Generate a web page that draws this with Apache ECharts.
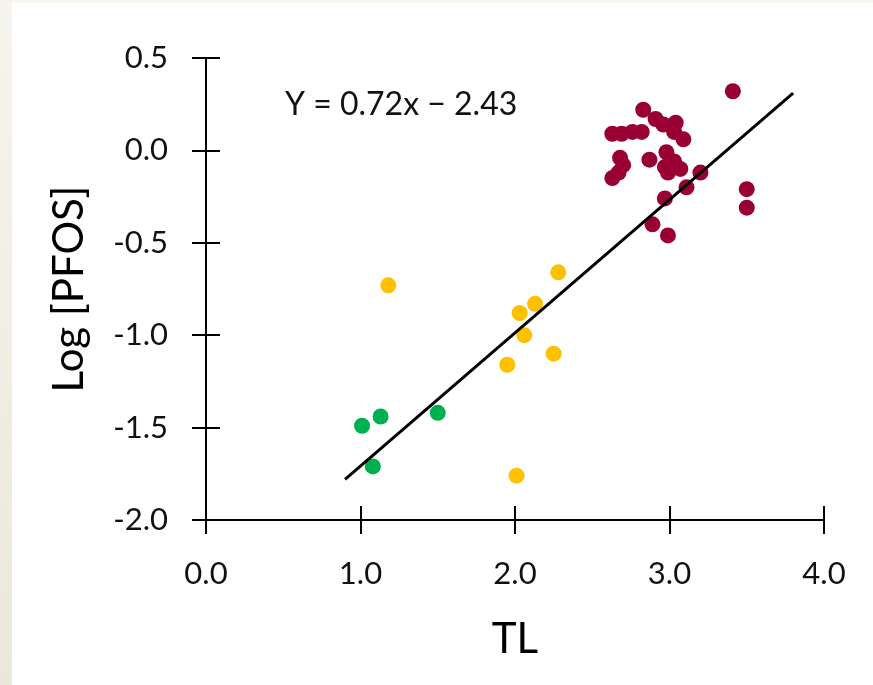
<!DOCTYPE html>
<html>
<head>
<meta charset="utf-8">
<script src="https://cdn.jsdelivr.net/npm/echarts@6/dist/echarts.min.js"></script>
<style>
html,body{margin:0;padding:0;background:#fff;}
#chart{width:873px;height:685px;}
</style>
</head>
<body>
<div id="chart"></div>
<script>
// ---- data ----
var greenX = [1.01, 1.13, 1.50, 1.08];
var greenY = [-1.49, -1.44, -1.42, -1.71];

var yellowX = [1.18, 2.28, 2.13, 2.03, 2.06, 1.95, 2.25, 2.01];
var yellowY = [-0.73, -0.66, -0.83, -0.88, -1.00, -1.16, -1.10, -1.76];

var redX = [3.41, 2.83, 2.63, 2.69, 2.76, 2.82, 2.91, 2.96, 3.04, 3.03, 3.09,
            2.68, 2.70, 2.63, 2.67, 2.87, 2.98, 2.97, 3.03, 3.07, 2.99, 3.20,
            3.11, 2.97, 2.89, 2.99, 3.50, 3.50];
var redY = [0.32, 0.22, 0.09, 0.09, 0.10, 0.10, 0.17, 0.14, 0.15, 0.10, 0.06,
            -0.04, -0.08, -0.15, -0.12, -0.05, -0.01, -0.09, -0.06, -0.10, -0.12, -0.12,
            -0.20, -0.26, -0.40, -0.46, -0.21, -0.31];

var fitX = [0.9, 3.8];
var fitY = [-1.78, 0.31];

var xTicks = [0, 1, 2, 3, 4];
var yTicks = [-2, -1.5, -1, -0.5, 0, 0.5];

var equationText = 'Y = 0.72x \u2212 2.43';
var xTitle = 'TL';
var yTitle = 'Log [PFOS]';

function pairs(xs, ys) { return xs.map(function (x, i) { return [x, ys[i]]; }); }

var FONT = 'Lato';
var chart = echarts.init(document.getElementById('chart'), null, {renderer: 'canvas'});

var axisLineStyle = {color: '#000', width: 2};
var gridBox = {left: 206, right: 49, top: 58, bottom: 165};

function xAx(grid, inside, showLabel) {
  return {
    gridIndex: grid,
    type: 'value', min: xTicks[0], max: xTicks[xTicks.length - 1], interval: 1, position: 'bottom',
    axisLine: {show: true, onZero: false, lineStyle: axisLineStyle},
    axisTick: {show: true, inside: inside, length: 14, lineStyle: axisLineStyle},
    axisLabel: {show: showLabel, margin: 38, formatter: function (v) { return v.toFixed(1); },
                color: '#111', fontSize: 31, fontFamily: FONT},
    splitLine: {show: false},
    name: showLabel ? xTitle : '', nameLocation: 'middle', nameGap: 98,
    nameTextStyle: {color: '#000', fontSize: 42, fontFamily: FONT}
  };
}
function yAx(grid, inside, showLabel) {
  return {
    gridIndex: grid,
    type: 'value', min: yTicks[0], max: yTicks[yTicks.length - 1], interval: 0.5, position: 'left',
    axisLine: {show: true, onZero: false, lineStyle: axisLineStyle},
    axisTick: {show: true, inside: inside, length: 14, lineStyle: axisLineStyle},
    axisLabel: {show: showLabel, margin: 38, formatter: function (v) { return v.toFixed(1); },
                color: '#111', fontSize: 31, fontFamily: FONT},
    splitLine: {show: false},
    name: showLabel ? yTitle : '', nameLocation: 'middle', nameGap: 116, nameRotate: 90,
    nameTextStyle: {color: '#000', fontSize: 42, fontFamily: FONT}
  };
}

chart.setOption({
  backgroundColor: '#fff',
  animation: false,
  grid: [Object.assign({}, gridBox), Object.assign({}, gridBox)],
  xAxis: [xAx(0, false, true), xAx(1, true, false)],
  yAxis: [yAx(0, false, true), yAx(1, true, false)],
  graphic: [
    {type: 'rect', z: -10, shape: {x: 0, y: 0, width: 873, height: 3}, style: {fill: '#F8F6F1'}},
    {type: 'rect', z: -10, shape: {x: 0, y: 0, width: 12, height: 685},
     style: {fill: new echarts.graphic.LinearGradient(0, 0, 0, 1, [
       {offset: 0, color: '#F6F4EE'}, {offset: 1, color: '#EBE7DA'}])}},
    {type: 'text', left: 285, top: 89, z: 10,
     style: {text: equationText, fill: '#111', fontSize: 32, fontFamily: FONT}}
  ],
  series: [
    {type: 'scatter', xAxisIndex: 0, yAxisIndex: 0, data: pairs(greenX, greenY), symbolSize: 16, itemStyle: {color: '#00B050', opacity: 1}, z: 2},
    {type: 'scatter', xAxisIndex: 0, yAxisIndex: 0, data: pairs(yellowX, yellowY), symbolSize: 16, itemStyle: {color: '#FFC000', opacity: 1}, z: 2},
    {type: 'scatter', xAxisIndex: 0, yAxisIndex: 0, data: pairs(redX, redY), symbolSize: 16, itemStyle: {color: '#990033', opacity: 1}, z: 2},
    {type: 'line', xAxisIndex: 0, yAxisIndex: 0, data: pairs(fitX, fitY), showSymbol: false, symbol: 'none',
     lineStyle: {color: '#000', width: 3}, z: 5},
    {type: 'scatter', xAxisIndex: 1, yAxisIndex: 1, data: [], silent: true}
  ]
});
</script>
</body>
</html>
